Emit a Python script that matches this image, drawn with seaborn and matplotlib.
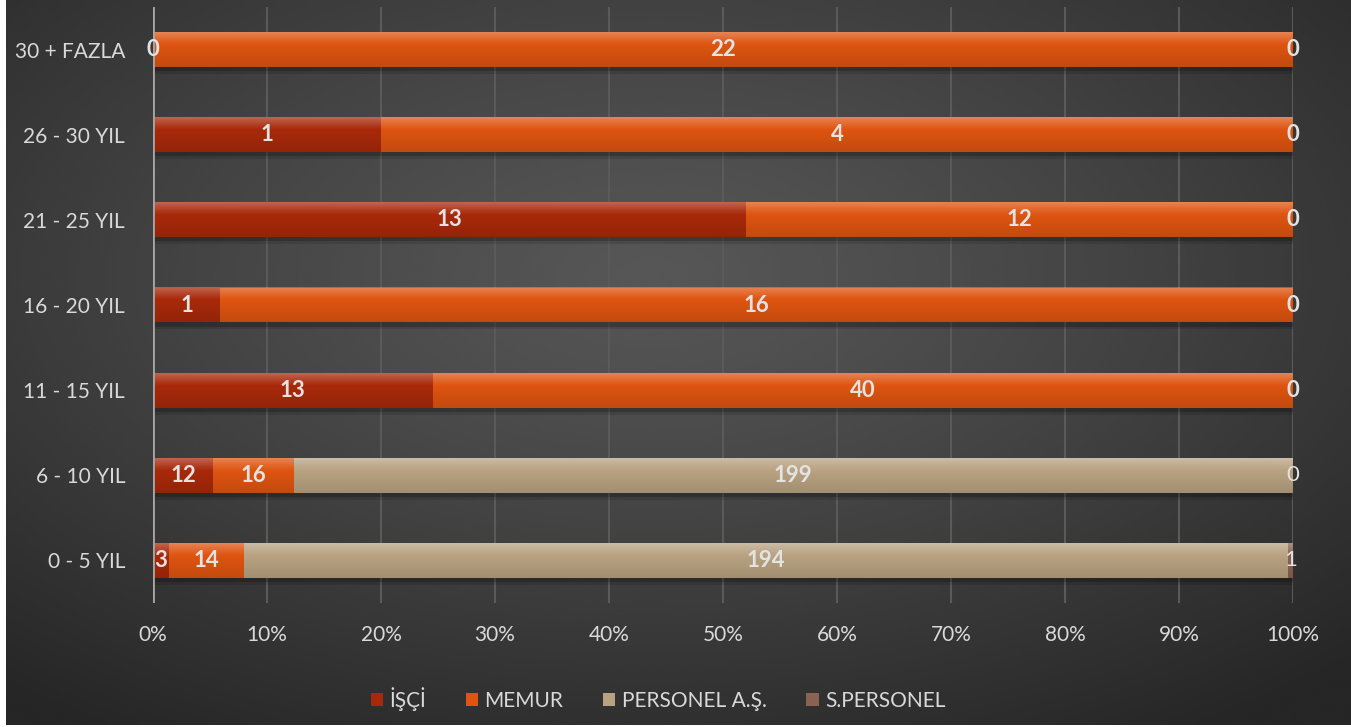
import numpy as np
import pandas as pd
import seaborn as sns
import matplotlib.pyplot as plt
from matplotlib.patches import Patch
from matplotlib import patheffects as pe

categories = ["30 + FAZLA", "26 - 30 YIL", "21 - 25 YIL", "16 - 20 YIL",
              "11 - 15 YIL", "6 - 10 YIL", "0 - 5 YIL"]
isci = [0, 1, 13, 1, 13, 12, 3]
memur = [22, 4, 12, 16, 40, 16, 14]
personel = [0, 0, 0, 0, 0, 199, 194]
s_personel = [np.nan, np.nan, np.nan, np.nan, np.nan, 0, 1]

series_names = ["İŞÇİ", "MEMUR", "PERSONEL A.Ş.", "S.PERSONEL"]
colors = ["#A8290A", "#DE5410", "#B8A281", "#8A6252"]

df = pd.DataFrame({"cat": categories, "İŞÇİ": isci, "MEMUR": memur,
                   "PERSONEL A.Ş.": personel, "S.PERSONEL": s_personel})
vals = df[series_names].fillna(0)
pct = vals.div(vals.sum(axis=1), axis=0) * 100
cum = pct.cumsum(axis=1)

sns.set_style("white")
plt.rcParams["font.family"] = ["Lato", "DejaVu Sans"]

fig = plt.figure(figsize=(13.51, 7.27), dpi=100)
fig.patch.set_facecolor("white")

# background with radial gradient
bg = fig.add_axes([6 / 1351, 2 / 727, 1 - 6 / 1351, 1 - 2 / 727])
bg.set_axis_off()
yy, xx = np.mgrid[0:1:300j, 0:1:500j]
r = np.sqrt(((xx - 0.48) / 0.75) ** 2 + ((yy - 0.38) / 0.75) ** 2)
r = np.clip(r, 0, 1)
shade = 0.34 - 0.19 * r ** 1.2
bg.imshow(shade, cmap="gray", vmin=0, vmax=1, extent=[0, 1, 1, 0],
          aspect="auto", interpolation="bicubic")

ax = fig.add_axes([153 / 1351, 1 - 603 / 727, (1293 - 153) / 1351, (603 - 7) / 727])
ax.patch.set_alpha(0)

# cumulative bars drawn from longest to shortest
for i in range(len(series_names) - 1, -1, -1):
    sns.barplot(x=cum[series_names[i]], y=df["cat"], color=colors[i],
                width=0.41, orient="h", ax=ax, saturation=1, zorder=3,
                linewidth=0, edgecolor="none")

n = len(categories)
full_bars = ax.patches[:n]
for p in full_bars:
    p.set_path_effects([
        pe.SimplePatchShadow(offset=(1, -5), shadow_rgbFace="black", alpha=0.12),
        pe.SimplePatchShadow(offset=(1, -3), shadow_rgbFace="black", alpha=0.2),
        pe.Normal()])

# light top / dark bottom gloss on each bar
grad = np.zeros((50, 2, 4))
t = np.linspace(0, 1, 50)
grad[..., :3] = np.where(t[:, None, None] < 0.35, 1.0, 0.0)
alpha = np.where(t < 0.35, 0.28 * (1 - t / 0.35), 0.12 * (t - 0.35) / 0.65)
grad[..., 3] = alpha[:, None]
for p in full_bars:
    x0, y0 = p.get_x(), p.get_y()
    w, h = p.get_width(), p.get_height()
    ax.imshow(grad, extent=[x0, x0 + w, y0 + h, y0], aspect="auto",
              zorder=4, interpolation="bilinear")

ax.set_xlim(0, 100)
ax.set_ylim(n - 0.5, -0.5)
ax.set_xticks(range(0, 101, 10))
ax.set_xticklabels([f"{v}%" for v in range(0, 101, 10)])
ax.grid(axis="x", color="#5a5a5a", linewidth=1.5, zorder=0)
ax.set_axisbelow(True)
for s in ax.spines.values():
    s.set_visible(False)
ax.axvline(0, color="#a6a6a6", linewidth=2, zorder=5)
ax.tick_params(axis="both", length=0, labelsize=15, labelcolor="#d9d9d9")
ax.tick_params(axis="x", pad=16)
ax.tick_params(axis="y", pad=20)
ax.set_xlabel("")
ax.set_ylabel("")

# value labels
for j in range(n):
    left = 0
    for i, name in enumerate(series_names):
        v = df[name].iloc[j]
        right = cum[name].iloc[j]
        if not pd.isna(v):
            weight = "normal" if name == "S.PERSONEL" else "bold"
            ax.text((left + right) / 2, j, f"{int(v)}", ha="center", va="center",
                    color="#e3e3e3", fontsize=16, fontweight=weight, zorder=6)
        left = right

handles = [Patch(facecolor=c, edgecolor="none", linewidth=0, label=s)
           for s, c in zip(series_names, colors)]
leg = fig.legend(handles=handles, loc="center", bbox_to_anchor=(0.487, 1 - 699 / 727),
                 ncol=4, frameon=False, fontsize=15, handlelength=0.6,
                 handleheight=0.6, handletextpad=0.3, columnspacing=1.9)
for txt in leg.get_texts():
    txt.set_color("#d9d9d9")

fig.savefig("out.png", dpi=100)
plt.close(fig)
